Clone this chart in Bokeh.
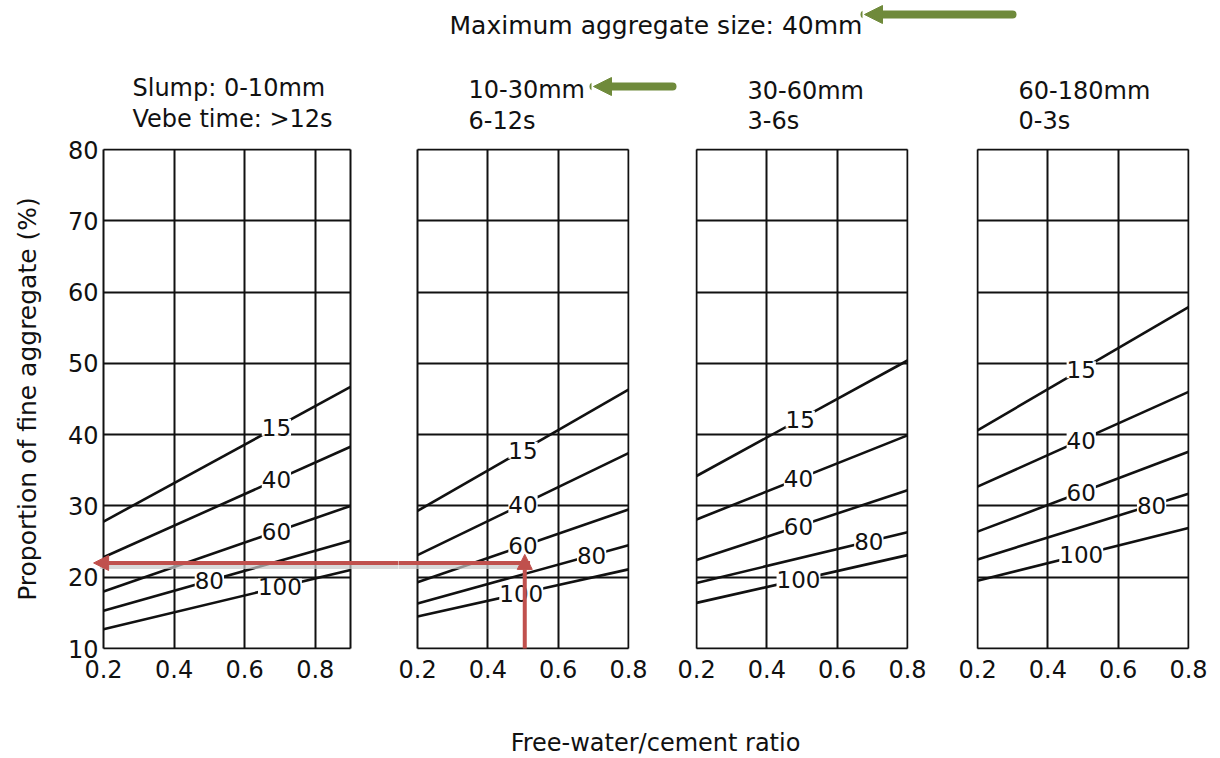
import numpy as np
from bokeh.plotting import figure
from bokeh.models import (Range1d, FixedTicker, Label, LabelSet, ColumnDataSource,
                          Arrow, NormalHead, BoxAnnotation, Grid)
from bokeh.core.properties import value
from bokeh.layouts import row, column
from bokeh.embed import file_html
from bokeh.resources import INLINE

FONT = "DejaVu Sans"
INK = "#111111"
RED = "#C0504D"
SHADOW = "#C8C8C8"
GREEN = "#6F8A3B"
HAS_CROSS_BOUNDS = "cross_bounds" in Grid.properties()

# ---------------- data ----------------
main_title = "Maximum aggregate size: 40mm"
slump_titles = ["Slump: 0-10mm", "10-30mm", "30-60mm", "60-180mm"]
vebe_titles = ["Vebe time: >12s", "6-12s", "3-6s", "0-3s"]
x_label = "Free-water/cement ratio"
y_label = "Proportion of fine aggregate (%)"

curve_names = ["15", "40", "60", "80", "100"]   # % passing 600 um sieve
x_ticks = [0.2, 0.4, 0.6, 0.8]
x_tick_labels = ["0.2", "0.4", "0.6", "0.8"]
y_ticks = [10, 20, 30, 40, 50, 60, 70, 80]
y_tick_labels = ["10", "20", "30", "40", "50", "60", "70", "80"]

wc_panel1 = [0.2, 0.9]
wc_panels = [0.2, 0.8]

# fine aggregate proportion (%) at the two ends of each line
fine_0_10 = [[27.8, 46.7], [22.8, 38.3], [18.0, 30.0], [15.3, 25.1], [12.7, 21.0]]
fine_10_30 = [[29.3, 46.3], [23.1, 37.4], [19.3, 29.5], [16.3, 24.5], [14.5, 21.1]]
fine_30_60 = [[34.2, 50.4], [28.1, 39.9], [22.4, 32.2], [19.2, 26.3], [16.4, 23.1]]
fine_60_180 = [[40.6, 57.9], [32.7, 46.0], [26.4, 37.6], [22.5, 31.7], [19.5, 26.9]]

# where the line labels sit (w/c ratio)
label_x_0_10 = [0.69, 0.69, 0.69, 0.50, 0.70]
label_x_10_30 = [0.50, 0.50, 0.50, 0.695, 0.495]
label_x_30_60 = [0.495, 0.49, 0.49, 0.69, 0.49]
label_x_60_180 = [0.495, 0.495, 0.495, 0.695, 0.495]

# worked example: w/c 0.5 -> 22 % fine aggregate
example_wc = 0.505
example_fine = 22

# ---------------- layout (pixels) ----------------
BODY_H = 499          # height of the 10..80 box
HEADER_H = 134
FOOTER_H = 50
TOP_B = 14
BOT_B = 59
Y_LO, Y_HI = 10, 80


def style_axes(p, y_standoff):
    for ax in p.xaxis:
        ax.ticker = FixedTicker(ticks=x_ticks)
        ax.major_label_overrides = {t: l for t, l in zip(x_ticks, x_tick_labels)}
        ax.axis_line_color = None
        ax.major_tick_line_color = None
        ax.minor_tick_line_color = None
        ax.major_label_text_font = FONT
        ax.major_label_text_font_size = "24px"
        ax.major_label_text_color = INK
        ax.major_label_standoff = 4
    for ax in p.yaxis:
        ax.ticker = FixedTicker(ticks=y_ticks)
        ax.major_label_overrides = {t: l for t, l in zip(y_ticks, y_tick_labels)}
        ax.axis_line_color = None
        ax.major_tick_line_color = None
        ax.minor_tick_line_color = None
        ax.major_label_text_font = FONT
        ax.major_label_text_font_size = "24px"
        ax.major_label_text_color = INK
        ax.major_label_standoff = y_standoff
        ax.axis_label = y_label
        ax.axis_label_text_font = FONT
        ax.axis_label_text_font_size = "25px"
        ax.axis_label_text_font_style = "normal"
        ax.axis_label_text_color = INK
        ax.axis_label_standoff = 23


def make_panel(wc, values, label_x, body_w, ext_l, ext_r, left_b, right_b, show_y):
    ppu = body_w / (wc[-1] - wc[0])
    ppy = BODY_H / (Y_HI - Y_LO)
    p = figure(frame_width=body_w + ext_l + ext_r, frame_height=BODY_H + 2,
               x_range=Range1d(wc[0] - ext_l / ppu, wc[-1] + ext_r / ppu),
               y_range=Range1d(Y_LO - 1 / ppy, Y_HI + 1 / ppy),
               output_backend="svg", toolbar_location=None,
               y_axis_location="left" if show_y else None,
               min_border_left=left_b, min_border_right=right_b,
               min_border_top=TOP_B, min_border_bottom=BOT_B)
    p.background_fill_color = "white"
    p.border_fill_color = "white"
    p.outline_line_color = None
    style_axes(p, -1 - ext_l)
    grid_x = sorted(set(x_ticks + [wc[-1]]))
    p.xgrid.ticker = FixedTicker(ticks=grid_x)
    p.ygrid.ticker = FixedTicker(ticks=y_ticks)
    p.grid.grid_line_color = INK
    p.grid.grid_line_width = 2
    p.grid.grid_line_alpha = 1

    if HAS_CROSS_BOUNDS:
        p.ygrid.cross_bounds = (wc[0], wc[-1])
        p.xgrid.cross_bounds = (Y_LO, Y_HI)
    else:
        if ext_l > 1:
            p.add_layout(BoxAnnotation(right=wc[0] - 1.0 / ppu, fill_color="white", fill_alpha=1,
                                       line_color=None, level="underlay"))
        if ext_r > 1:
            p.add_layout(BoxAnnotation(left=wc[-1] + 1.0 / ppu, fill_color="white", fill_alpha=1,
                                       line_color=None, level="underlay"))

    lab_y = []
    for vals, lx in zip(values, label_x):
        p.line(wc, vals, line_color=INK, line_width=2.6)
        lab_y.append(float(np.interp(lx, wc, vals)))
    src = ColumnDataSource(dict(x=label_x, y=lab_y, text=curve_names))
    p.add_layout(LabelSet(source=src, x="x", y="y", text="text",
                          text_align="center", text_baseline="middle",
                          text_font=value(FONT), text_font_size="23px",
                          text_color=INK, background_fill_color="white"))
    return p


p1 = make_panel(wc_panel1, fine_0_10, label_x_0_10, 247, 13, 48, 90, 0, True)
p2 = make_panel(wc_panels, fine_10_30, label_x_10_30, 211, 19, 1, 0, 48, False)
p3 = make_panel(wc_panels, fine_30_60, label_x_30_60, 211, 1, 1, 18, 50, False)
p4 = make_panel(wc_panels, fine_60_180, label_x_60_180, 211, 1, 1, 18, 31, False)

# red worked-example arrows (with the faint grey shadow seen in the reference)
shadow_dy = 0.5
p2.add_layout(Arrow(x_start=example_wc + 0.015, y_start=example_fine - shadow_dy, x_end=0.1,
                    y_end=example_fine - shadow_dy, line_color=SHADOW, line_alpha=0.7,
                    line_width=5, end=None))
p1.add_layout(Arrow(x_start=1.1, y_start=example_fine - shadow_dy, x_end=0.19,
                    y_end=example_fine - shadow_dy, line_color=SHADOW, line_alpha=0.7,
                    line_width=5, end=None))
p2.add_layout(Arrow(x_start=example_wc, y_start=Y_LO, x_end=example_wc, y_end=example_fine + 1.2,
                    line_color=RED, line_width=4,
                    end=NormalHead(size=15, fill_color=RED, line_color=RED)))
p2.add_layout(Arrow(x_start=example_wc + 0.015, y_start=example_fine, x_end=0.1, y_end=example_fine,
                    line_color=RED, line_width=4, end=None))
p1.add_layout(Arrow(x_start=1.1, y_start=example_fine, x_end=0.172, y_end=example_fine,
                    line_color=RED, line_width=4,
                    end=NormalHead(size=15, fill_color=RED, line_color=RED)))

# ---------------- header ----------------
header = figure(width=1220, height=HEADER_H, x_range=Range1d(0, 1220), y_range=Range1d(HEADER_H, 0),
                output_backend="svg", toolbar_location=None, min_border=0,
                x_axis_location=None, y_axis_location=None)
header.outline_line_color = None
header.grid.visible = False

header.add_layout(Label(x=449, y=25, text=main_title, text_font=FONT, text_font_size="25px",
                        text_color=INK, text_align="left", text_baseline="middle"))
title_x = [132, 468, 747, 1018]
title_y1 = [87, 89, 90, 90]
title_y2 = [118, 120, 120, 120]
for tx, ty1, ty2, s, v in zip(title_x, title_y1, title_y2, slump_titles, vebe_titles):
    header.add_layout(Label(x=tx, y=ty1, text=s, text_font=FONT, text_font_size="24px",
                            text_color=INK, text_align="left", text_baseline="middle"))
    header.add_layout(Label(x=tx, y=ty2, text=v, text_font=FONT, text_font_size="24px",
                            text_color=INK, text_align="left", text_baseline="middle"))

header.add_layout(Arrow(x_start=1012, y_start=14, x_end=864, y_end=14, line_color=GREEN,
                        line_width=8, line_cap="round",
                        end=NormalHead(size=18, fill_color=GREEN, line_color=GREEN)))
header.add_layout(Arrow(x_start=672, y_start=86, x_end=593, y_end=86, line_color=GREEN,
                        line_width=8, line_cap="round",
                        end=NormalHead(size=18, fill_color=GREEN, line_color=GREEN)))

# ---------------- footer ----------------
footer = figure(width=1220, height=FOOTER_H, x_range=Range1d(0, 1220), y_range=Range1d(FOOTER_H, 0),
                output_backend="svg", toolbar_location=None, min_border=0,
                x_axis_location=None, y_axis_location=None)
footer.outline_line_color = None
footer.grid.visible = False
footer.add_layout(Label(x=655, y=34, text=x_label, text_font=FONT, text_font_size="24px",
                        text_color=INK, text_align="center", text_baseline="middle"))

layout = column(header, row(p1, p2, p3, p4), footer)
open("out.html", "w").write(file_html(layout, INLINE))
